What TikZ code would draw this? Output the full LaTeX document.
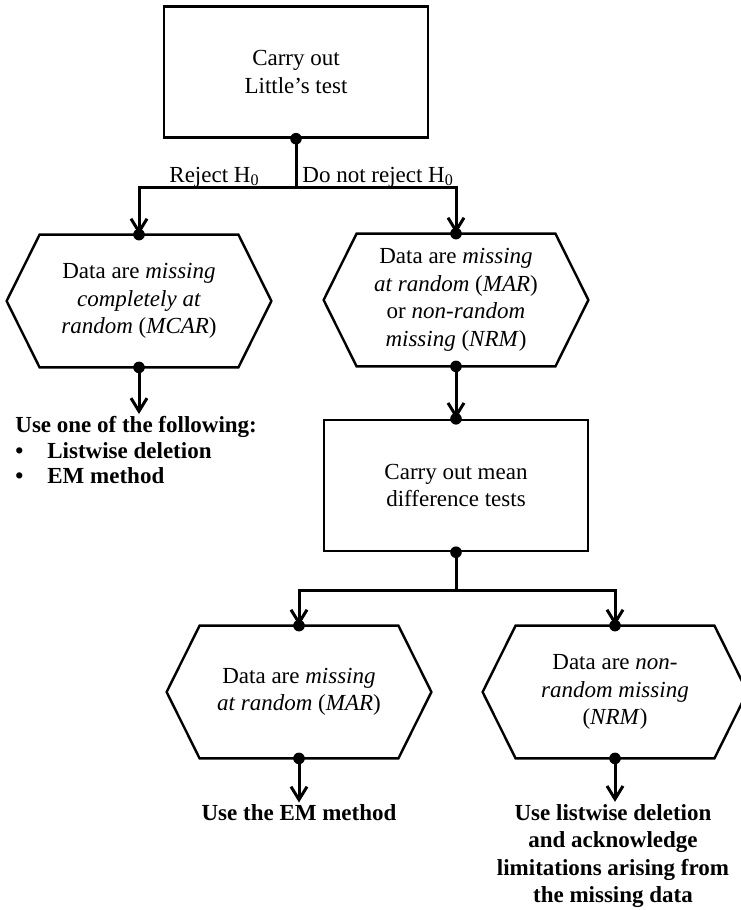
\documentclass[tikz,border=0pt]{standalone}
\usepackage{fontspec}
\setmainfont{Liberation Serif}
\usetikzlibrary{arrows.meta}

\begin{document}
\begin{tikzpicture}[x=0.5pt,y=-0.5pt,>={Straight Barb[length=6.5pt,width=8pt]},
  every node/.style={font=\fontsize{11.5}{13.75}\selectfont},
  procbox/.style={draw,line width=1.2pt,minimum width=132pt,minimum height=65.5pt,align=center,inner sep=0pt},
  hexbox/.style={minimum width=99pt,minimum height=66pt,align=center,inner sep=0pt},
  link/.style={line width=1.5pt},
  advice/.style={font=\fontsize{11.5}{13.75}\selectfont\bfseries,align=center,inner sep=1pt}]
  \useasboundingbox (0,0) rectangle (740,910);
  % boxes
  \node[procbox] (little) at (296,72) {Carry out\\Little's test};
  \node[hexbox] (mcar) at (139,301) {Data are \textit{missing}\\\textit{completely at}\\\textit{random} (\textit{MCAR})};
  \node[hexbox] (marnrm) at (456,300) {Data are \textit{missing}\\\textit{at random} (\textit{MAR})\\or \textit{non-random}\\\textit{missing} (\textit{NRM})};
  \node[procbox] (meandiff) [below of=marnrm,node distance=92.75pt] {Carry out mean\\difference tests};
  \node[hexbox] (mar) at (299,692) {Data are \textit{missing}\\\textit{at random} (\textit{MAR})};
  \node[hexbox] (nrm) at (615,692) {Data are \textit{non-}\\\textit{random missing}\\(\textit{NRM})};
  \foreach \n in {mcar,marnrm,mar,nrm}
    \draw[line width=1.2pt] (\n.north west) -- (\n.north east) -- ([xshift=16.5pt]\n.east)
      -- (\n.south east) -- (\n.south west) -- ([xshift=-16.5pt]\n.west) -- cycle;
  % outcomes
  \node[advice,align=left,anchor=north west,font=\fontsize{11.5}{12.75}\selectfont\bfseries] (mcaruse) at (13,414)
    {Use one of the following:\\\makebox[16pt][l]{\textbullet}Listwise deletion\\\makebox[16pt][l]{\textbullet}EM method};
  \node[advice] (maruse) at (299,813) {Use the EM method};
  \node[advice] (nrmuse) at (613,856) {Use listwise deletion\\and acknowledge\\limitations arising from\\the missing data};
  % labels
  \node[anchor=east,inner sep=2pt] (rejlab) at (264,177) {Reject H\textsubscript{0}};
  \node[anchor=west,inner sep=2pt] (keeplab) at (298,177) {Do not reject H\textsubscript{0}};
  % connectors
  \coordinate (split1) at ([yshift=-24.25pt]little.south);
  \coordinate (split2) at ([yshift=-19pt]meandiff.south);
  \draw[link] (little.south) -- (split1);
  \draw[link,->] (split1) -| (mcar.north);
  \draw[link,->] (split1) -| (marnrm.north);
  \draw[link,->] (mcar.south) -- (mcar.south |- mcaruse.north);
  \draw[link,->] (marnrm.south) -- (meandiff.north);
  \draw[link] (meandiff.south) -- (split2);
  \draw[link,->] (split2) -| (mar.north);
  \draw[link,->] (split2) -| (nrm.north);
  \draw[link,->] (mar.south) -- (maruse);
  \draw[link,->] (nrm.south) -- (nrm.south |- nrmuse.north);
  \foreach \a in {little.south,mcar.north,mcar.south,marnrm.north,marnrm.south,meandiff.north,
    meandiff.south,mar.north,mar.south,nrm.north,nrm.south}
    \fill (\a) circle (2.9pt);
\end{tikzpicture}
\end{document}
